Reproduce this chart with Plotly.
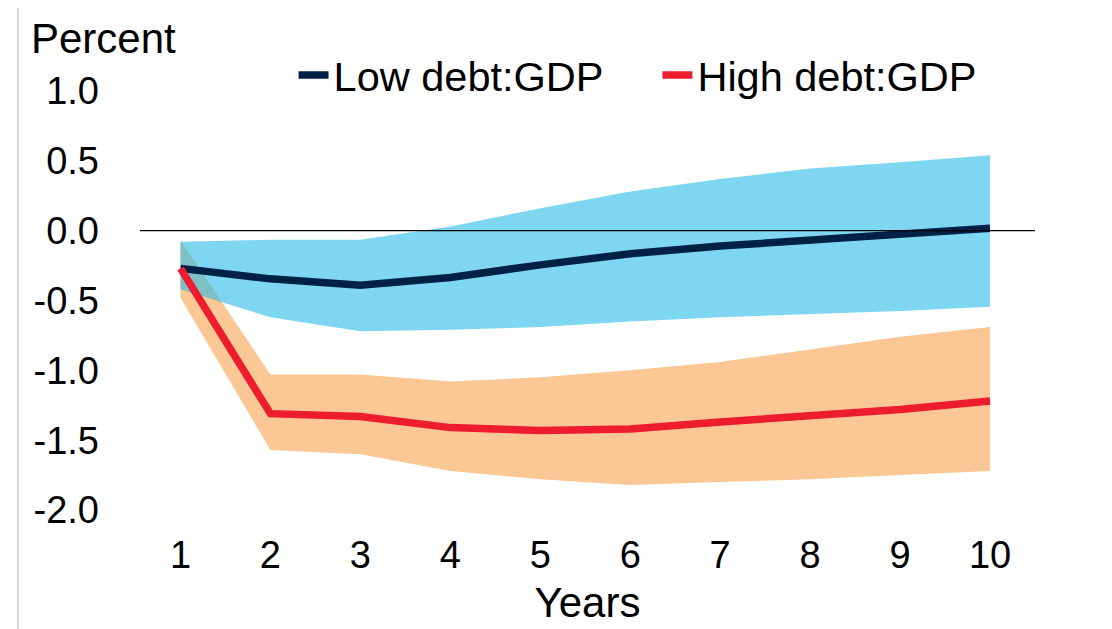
import plotly.graph_objects as go

years = [1, 2, 3, 4, 5, 6, 7, 8, 9, 10]
low_debt = [-0.27, -0.345, -0.39, -0.335, -0.245, -0.165, -0.11, -0.065, -0.02, 0.017]
low_upper = [-0.08, -0.065, -0.065, 0.03, 0.16, 0.28, 0.37, 0.445, 0.49, 0.54]
low_lower = [-0.42, -0.62, -0.72, -0.71, -0.69, -0.65, -0.62, -0.60, -0.575, -0.545]
high_debt = [-0.27, -1.31, -1.33, -1.41, -1.43, -1.42, -1.37, -1.33, -1.28, -1.22]
high_upper = [-0.07, -1.03, -1.03, -1.08, -1.05, -1.0, -0.94, -0.85, -0.76, -0.69]
high_lower = [-0.48, -1.57, -1.6, -1.72, -1.78, -1.82, -1.80, -1.78, -1.75, -1.72]
y_tickvals = [1.0, 0.5, 0.0, -0.5, -1.0, -1.5, -2.0]
y_ticktext = ["1.0", "0.5", "0.0", "-0.5", "-1.0", "-1.5", "-2.0"]

FONT = "Liberation Sans, Arial, sans-serif"
NAVY = "#002147"
RED = "#ed1c2e"

fig = go.Figure()
# orange band
fig.add_trace(go.Scatter(x=years, y=high_upper, mode="lines", line=dict(width=0),
                         showlegend=False, hoverinfo="skip"))
fig.add_trace(go.Scatter(x=years, y=high_lower, mode="lines", line=dict(width=0),
                         fill="tonexty", fillcolor="#fac795", showlegend=False, hoverinfo="skip"))
# blue band
fig.add_trace(go.Scatter(x=years, y=low_upper, mode="lines", line=dict(width=0),
                         showlegend=False, hoverinfo="skip"))
fig.add_trace(go.Scatter(x=years, y=low_lower, mode="lines", line=dict(width=0),
                         fill="tonexty", fillcolor="rgba(42,187,230,0.6)", showlegend=False, hoverinfo="skip"))
# lines
fig.add_trace(go.Scatter(x=years, y=low_debt, mode="lines", name="Low debt:GDP",
                         line=dict(color=NAVY, width=7.5), legend="legend"))
fig.add_trace(go.Scatter(x=years, y=high_debt, mode="lines", name="High debt:GDP",
                         line=dict(color=RED, width=7.5), legend="legend2"))

L, R, T, B = 132, 1027, 76, 113
PW, PH = R - L, 629 - T - B
fig.add_shape(type="line", xref="paper", yref="y", x0=0, x1=1, y0=0, y1=0,
              line=dict(color="black", width=1.3), layer="above")
fig.add_shape(type="line", xref="paper", yref="paper",
              x0=(10 - L) / PW, x1=(10 - L) / PW, y0=-0.3, y1=1.25,
              line=dict(color="#c8c8c8", width=1.5))

fig.update_layout(
    width=1112, height=629,
    margin=dict(l=L, r=1112 - R, t=T, b=B, autoexpand=False),
    paper_bgcolor="white", plot_bgcolor="white",
    font=dict(family=FONT, size=38, color="black"),
    xaxis=dict(range=[0.55, 10.5], tickvals=years, showgrid=False, zeroline=False,
               showline=False, ticks="", ticklabelstandoff=5, automargin=False,
               title=dict(text="Years", standoff=12, font=dict(size=42))),
    yaxis=dict(range=[-2.1, 1.05], tickvals=y_tickvals, ticktext=y_ticktext,
               showgrid=False, zeroline=False, showline=False, ticks="",
               ticklabelstandoff=40, automargin=False),
    legend=dict(xref="container", yref="container", x=0.2568, y=0.8935,
                xanchor="left", yanchor="middle", orientation="h",
                bgcolor="rgba(0,0,0,0)", font=dict(size=41.5), itemwidth=30),
    legend2=dict(xref="container", yref="container", x=0.584, y=0.8935,
                 xanchor="left", yanchor="middle", orientation="h",
                 bgcolor="rgba(0,0,0,0)", font=dict(size=41.5), itemwidth=30),
    annotations=[dict(text="Percent", xref="paper", yref="paper",
                      x=(21 - L) / PW, y=1 + (T - 31) / PH,
                      xanchor="left", yanchor="middle", showarrow=False,
                      font=dict(size=42))],
)

fig.write_html("out.html")
